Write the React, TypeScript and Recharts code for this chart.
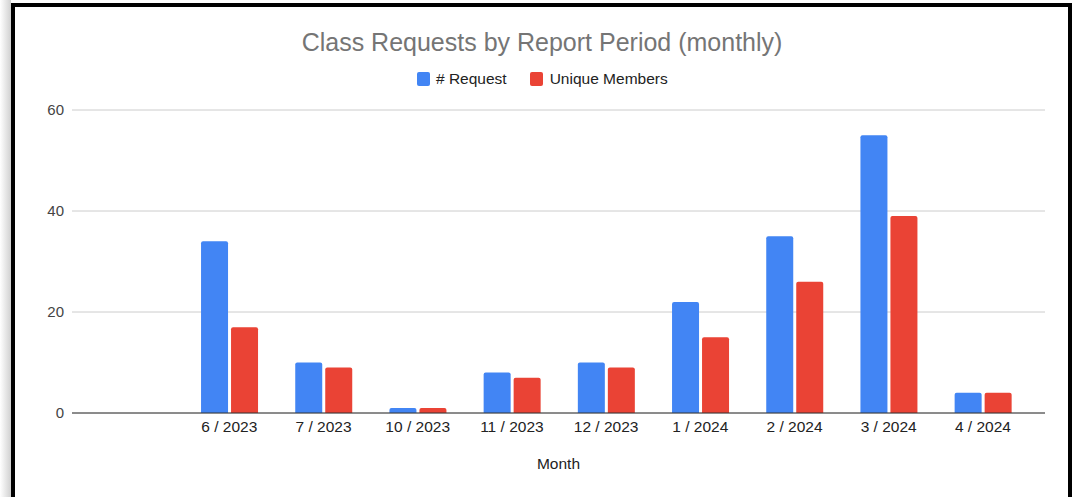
import React from 'react';
import { BarChart, Bar, XAxis, YAxis, CartesianGrid } from 'recharts';

const months = ['', '6 / 2023', '7 / 2023', '10 / 2023', '11 / 2023', '12 / 2023', '1 / 2024', '2 / 2024', '3 / 2024', '4 / 2024'];
const requests: (number | null)[] = [null, 34, 10, 1, 8, 10, 22, 35, 55, 4];
const uniqueMembers: (number | null)[] = [null, 17, 9, 1, 7, 9, 15, 26, 39, 4];
const yTicks = [0, 20, 40, 60];

const data = months.map((m, i) => ({ month: m, requests: requests[i], unique: uniqueMembers[i] }));

const FONT = '"Liberation Sans", Arial, sans-serif';

export default function App() {
  return (
    <div style={{ position: 'absolute', left: 0, top: 0, width: 1072, height: 497, background: '#fff', overflow: 'hidden' }}>
      <div style={{ position: 'absolute', left: 0, top: 0, width: 11, height: 497, background: 'linear-gradient(to right, #ffffff, #d0d0d0)' }} />
      <div style={{ position: 'absolute', left: 11, top: 3, width: 1061, height: 494, borderLeft: '4px solid #000', borderTop: '4px solid #000', borderRight: '4px solid #000', boxSizing: 'border-box' }} />
      <div style={{ position: 'absolute', left: 542, top: 28, transform: 'translateX(-50%)', whiteSpace: 'nowrap', fontFamily: FONT, fontSize: 25, color: '#757575' }}>
        Class Requests by Report Period (monthly)
      </div>
      <div style={{ position: 'absolute', left: 417, top: 70, display: 'flex', alignItems: 'center', whiteSpace: 'nowrap', fontFamily: FONT, fontSize: 15.5, color: '#222' }}>
        <span style={{ display: 'inline-block', width: 13, height: 14, background: '#4285F4', borderRadius: 2, marginRight: 6 }} />
        <span style={{ marginRight: 23 }}># Request</span>
        <span style={{ display: 'inline-block', width: 13, height: 14, background: '#EA4335', borderRadius: 2, marginRight: 7 }} />
        <span>Unique Members</span>
      </div>
      <div style={{ position: 'absolute', left: 0, top: 0 }}>
        <BarChart width={1072} height={497} data={data} margin={{ top: 110, right: 27, bottom: 54, left: 0 }} barCategoryGap="20%" barGap={3}>
          <CartesianGrid vertical={false} stroke="#cccccc" />
          <XAxis
            dataKey="month"
            padding={{ left: 16, right: 15 }}
            tickLine={false}
            axisLine={{ stroke: '#333333' }}
            tick={{ fill: '#222', fontSize: 15.5, fontFamily: FONT }}
            height={30}
            interval={0}
            label={{ value: 'Month', position: 'bottom', offset: 15, fill: '#222', fontSize: 15.5, fontFamily: FONT }}
          />
          <YAxis
            width={72}
            domain={[0, 60]}
            ticks={yTicks}
            tickLine={false}
            axisLine={false}
            tick={{ fill: '#444', fontSize: 15, fontFamily: FONT }}
          />
          <Bar dataKey="requests" name="# Request" fill="#4285F4" radius={[2, 2, 0, 0]} isAnimationActive={false} />
          <Bar dataKey="unique" name="Unique Members" fill="#EA4335" radius={[2, 2, 0, 0]} isAnimationActive={false} />
        </BarChart>
      </div>
    </div>
  );
}
